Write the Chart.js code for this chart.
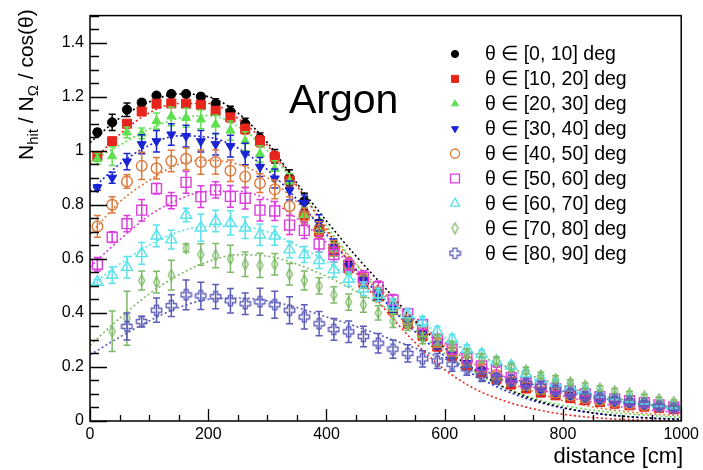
<!DOCTYPE html>
<html>
<head>
<meta charset="utf-8">
<script src="https://cdn.jsdelivr.net/npm/chart.js@4.4.1/dist/chart.umd.min.js"></script>
<style>
  html, body { margin: 0; padding: 0; background: #fff; }
  #wrap { width: 703px; height: 470px; }
</style>
</head>
<body>
<div id="wrap"><canvas id="myChart"></canvas></div>
<script>
// data
const distance = [12.5, 37.5, 62.5, 87.5, 112.5, 137.5, 162.5, 187.5, 212.5, 237.5,
  262.5, 287.5, 312.5, 337.5, 362.5, 387.5, 412.5, 437.5, 462.5, 487.5,
  512.5, 537.5, 562.5, 587.5, 612.5, 637.5, 662.5, 687.5, 712.5, 737.5,
  762.5, 787.5, 812.5, 837.5, 862.5, 887.5, 912.5, 937.5, 962.5, 987.5];
const fitDistance = [0, 50, 100, 150, 200, 250, 300, 350, 400, 450, 500,
  550, 600, 650, 700, 750, 800, 850, 900, 950, 1000];
const thetaLabels = ['θ ∈ [0, 10] deg', 'θ ∈ [10, 20] deg', 'θ ∈ [20, 30] deg',
  'θ ∈ [30, 40] deg', 'θ ∈ [40, 50] deg', 'θ ∈ [50, 60] deg',
  'θ ∈ [60, 70] deg', 'θ ∈ [70, 80] deg', 'θ ∈ [80, 90] deg'];
const xTicks = [0, 200, 400, 600, 800, 1000];
const yTicks = [0, 0.2, 0.4, 0.6, 0.8, 1, 1.2, 1.4];

const ratio0 = [1.068, 1.105, 1.152, 1.178, 1.204, 1.21, 1.21, 1.20, 1.174, 1.145,
  1.10, 1.046, 0.98, 0.90, 0.813, 0.715, 0.64, 0.57, 0.52, 0.47,
  0.42, 0.37, 0.32, 0.28, 0.245, 0.21, 0.185, 0.16, 0.14, 0.125,
  0.11, 0.1, 0.09, 0.08, 0.072, 0.066, 0.06, 0.055, 0.05, 0.045];
const err0 = [0.012, 0.03, 0.025, 0.012, 0.01, 0.01, 0.01, 0.012, 0.018, 0.02,
  0.02, 0.02, 0.025, 0.03, 0.03, 0.03, 0.025, 0.02, 0.02, 0.018,
  0.016, 0.015, 0.013, 0.012, 0.011, 0.01, 0.009, 0.008, 0.007, 0.006,
  0.006, 0.005, 0.005, 0.004, 0.004, 0.004, 0.003, 0.003, 0.003, 0.003];
const fit0 = [1.03, 1.12, 1.18, 1.21, 1.20, 1.14, 1.03, 0.88, 0.74, 0.61, 0.49,
  0.37, 0.27, 0.19, 0.125, 0.08, 0.05, 0.03, 0.018, 0.01, 0.006];

const ratio10 = [0.98, 1.035, 1.10, 1.145, 1.174, 1.175, 1.174, 1.17, 1.148, 1.123,
  1.08, 1.035, 0.977, 0.89, 0.76, 0.70, 0.63, 0.565, 0.51, 0.46,
  0.41, 0.36, 0.315, 0.275, 0.24, 0.205, 0.18, 0.155, 0.135, 0.12,
  0.105, 0.095, 0.085, 0.077, 0.07, 0.064, 0.058, 0.053, 0.048, 0.044];
const err10 = [0.012, 0.015, 0.012, 0.01, 0.01, 0.01, 0.01, 0.012, 0.015, 0.015,
  0.018, 0.02, 0.02, 0.025, 0.025, 0.025, 0.02, 0.02, 0.018, 0.016,
  0.015, 0.013, 0.012, 0.01, 0.009, 0.008, 0.007, 0.006, 0.005, 0.005,
  0.004, 0.004, 0.003, 0.003, 0.003, 0.003, 0.002, 0.002, 0.002, 0.002];
const fit10 = [0.95, 1.06, 1.14, 1.175, 1.175, 1.12, 1.02, 0.87, 0.71, 0.55, 0.41,
  0.29, 0.19, 0.12, 0.075, 0.045, 0.025, 0.013, 0.006, 0.002, 0.0];

const ratio20 = [0.97, 0.98, 1.068, 1.064, 1.11, 1.127, 1.122, 1.116, 1.097, 1.075,
  1.035, 0.988, 0.933, 0.886, 0.762, 0.707, 0.635, 0.57, 0.515, 0.465,
  0.415, 0.365, 0.32, 0.28, 0.245, 0.21, 0.185, 0.16, 0.14, 0.124,
  0.11, 0.099, 0.089, 0.08, 0.072, 0.066, 0.06, 0.055, 0.05, 0.046];
const err20 = [0.02, 0.035, 0.02, 0.02, 0.03, 0.035, 0.035, 0.035, 0.035, 0.035,
  0.035, 0.03, 0.03, 0.03, 0.03, 0.03, 0.025, 0.025, 0.022, 0.02,
  0.018, 0.016, 0.015, 0.013, 0.012, 0.011, 0.01, 0.009, 0.008, 0.007,
  0.007, 0.006, 0.006, 0.005, 0.005, 0.005, 0.004, 0.004, 0.004, 0.004];
const fit20 = [0.96, 1.02, 1.08, 1.12, 1.13, 1.09, 1.00, 0.87, 0.72, 0.58, 0.45,
  0.34, 0.25, 0.18, 0.125, 0.085, 0.058, 0.04, 0.028, 0.02, 0.013];

const ratio30 = [0.864, 0.90, 0.96, 1.024, 1.035, 1.06, 1.054, 1.035, 1.024, 1.017,
  0.988, 0.94, 0.897, 0.853, 0.806, 0.733, 0.645, 0.575, 0.52, 0.47,
  0.42, 0.37, 0.32, 0.28, 0.245, 0.212, 0.186, 0.162, 0.142, 0.126,
  0.112, 0.1, 0.09, 0.081, 0.073, 0.067, 0.061, 0.056, 0.051, 0.047];
const err30 = [0.01, 0.02, 0.03, 0.035, 0.04, 0.04, 0.04, 0.04, 0.04, 0.04,
  0.04, 0.035, 0.035, 0.035, 0.03, 0.03, 0.028, 0.025, 0.022, 0.02,
  0.018, 0.016, 0.015, 0.013, 0.012, 0.011, 0.01, 0.009, 0.008, 0.007,
  0.006, 0.006, 0.005, 0.005, 0.004, 0.004, 0.004, 0.003, 0.003, 0.003];
const fit30 = [0.85, 0.95, 1.02, 1.055, 1.05, 1.01, 0.93, 0.82, 0.69, 0.56, 0.44,
  0.33, 0.24, 0.17, 0.115, 0.075, 0.048, 0.03, 0.018, 0.011, 0.007];

const ratio40 = [0.72, 0.80, 0.886, 0.944, 0.935, 0.962, 0.97, 0.958, 0.958, 0.926,
  0.904, 0.88, 0.857, 0.795, 0.758, 0.707, 0.64, 0.58, 0.525, 0.475,
  0.425, 0.375, 0.33, 0.29, 0.255, 0.222, 0.195, 0.17, 0.15, 0.133,
  0.118, 0.105, 0.094, 0.085, 0.077, 0.07, 0.064, 0.058, 0.053, 0.049];
const err40 = [0.04, 0.03, 0.025, 0.05, 0.04, 0.04, 0.04, 0.045, 0.045, 0.04,
  0.04, 0.035, 0.035, 0.035, 0.03, 0.03, 0.028, 0.025, 0.022, 0.02,
  0.018, 0.017, 0.016, 0.015, 0.014, 0.013, 0.012, 0.011, 0.01, 0.009,
  0.008, 0.008, 0.007, 0.007, 0.006, 0.006, 0.005, 0.005, 0.005, 0.005];
const fit40 = [0.69, 0.81, 0.89, 0.95, 0.965, 0.95, 0.90, 0.81, 0.70, 0.58, 0.47,
  0.37, 0.28, 0.21, 0.15, 0.11, 0.075, 0.052, 0.036, 0.026, 0.02];

const ratio50 = [0.58, 0.68, 0.73, 0.78, 0.86, 0.815, 0.883, 0.83, 0.855, 0.831,
  0.824, 0.78, 0.777, 0.725, 0.705, 0.655, 0.616, 0.576, 0.532, 0.496,
  0.448, 0.397, 0.357, 0.303, 0.266, 0.233, 0.204, 0.186, 0.16, 0.142,
  0.131, 0.12, 0.11, 0.10, 0.09, 0.082, 0.075, 0.068, 0.06, 0.052];
const err50 = [0.025, 0.02, 0.03, 0.04, 0.02, 0.03, 0.04, 0.04, 0.03, 0.04,
  0.04, 0.04, 0.035, 0.035, 0.03, 0.03, 0.028, 0.026, 0.024, 0.022,
  0.02, 0.019, 0.018, 0.017, 0.016, 0.015, 0.014, 0.013, 0.012, 0.011,
  0.01, 0.01, 0.009, 0.009, 0.008, 0.008, 0.007, 0.007, 0.007, 0.006];
const fit50 = [0.57, 0.67, 0.76, 0.82, 0.85, 0.85, 0.82, 0.75, 0.66, 0.56, 0.46,
  0.37, 0.29, 0.22, 0.165, 0.125, 0.093, 0.07, 0.052, 0.04, 0.03];

const ratio60 = [0.514, 0.54, 0.569, 0.62, 0.685, 0.671, 0.762, 0.715, 0.74, 0.733,
  0.715, 0.689, 0.685, 0.634, 0.616, 0.594, 0.56, 0.525, 0.489, 0.467,
  0.43, 0.394, 0.368, 0.332, 0.303, 0.266, 0.248, 0.222, 0.204, 0.175,
  0.157, 0.14, 0.127, 0.113, 0.10, 0.09, 0.08, 0.072, 0.064, 0.056];
const err60 = [0.01, 0.03, 0.04, 0.04, 0.04, 0.035, 0.025, 0.05, 0.04, 0.045,
  0.04, 0.04, 0.035, 0.03, 0.03, 0.03, 0.028, 0.026, 0.025, 0.024,
  0.022, 0.02, 0.019, 0.018, 0.017, 0.016, 0.015, 0.014, 0.013, 0.012,
  0.011, 0.011, 0.01, 0.01, 0.009, 0.009, 0.008, 0.008, 0.008, 0.007];
const fit60 = [0.50, 0.58, 0.65, 0.70, 0.72, 0.72, 0.70, 0.65, 0.59, 0.52, 0.45,
  0.38, 0.31, 0.25, 0.20, 0.155, 0.12, 0.092, 0.07, 0.053, 0.04];

const ratio70 = [null, 0.332, 0.38, 0.52, 0.514, 0.54, 0.64, 0.616, 0.612, 0.60,
  0.58, 0.576, 0.58, 0.543, 0.52, 0.50, 0.467, 0.44, 0.43, 0.40,
  0.37, 0.357, 0.306, 0.30, 0.277, 0.25, 0.233, 0.222, 0.197, 0.186,
  0.168, 0.155, 0.142, 0.13, 0.12, 0.11, 0.10, 0.09, 0.08, 0.07];
const err70 = [0, 0.075, 0.1, 0.035, 0.04, 0.055, 0.015, 0.04, 0.045, 0.05,
  0.045, 0.045, 0.04, 0.04, 0.035, 0.03, 0.03, 0.03, 0.028, 0.026,
  0.024, 0.022, 0.02, 0.019, 0.018, 0.017, 0.016, 0.015, 0.014, 0.013,
  0.012, 0.012, 0.011, 0.011, 0.01, 0.01, 0.009, 0.009, 0.008, 0.008];
const fit70 = [0.28, 0.38, 0.47, 0.54, 0.59, 0.615, 0.61, 0.58, 0.535, 0.48, 0.42,
  0.36, 0.30, 0.25, 0.205, 0.165, 0.13, 0.10, 0.08, 0.062, 0.05];

const ratio80 = [null, null, 0.35, 0.368, 0.41, 0.427, 0.467, 0.463, 0.46, 0.445,
  0.434, 0.441, 0.43, 0.41, 0.385, 0.36, 0.339, 0.33, 0.313, 0.288,
  0.266, 0.25, 0.23, 0.222, 0.21, 0.193, 0.168, 0.157, 0.15, 0.139,
  0.128, 0.115, 0.104, 0.092, 0.086, 0.078, 0.071, 0.065, 0.055, 0.048];
const err80 = [0, 0, 0.05, 0.02, 0.045, 0.04, 0.055, 0.05, 0.045, 0.045,
  0.04, 0.05, 0.05, 0.05, 0.045, 0.045, 0.04, 0.04, 0.038, 0.036,
  0.034, 0.032, 0.03, 0.028, 0.026, 0.024, 0.022, 0.02, 0.019, 0.018,
  0.017, 0.016, 0.015, 0.014, 0.013, 0.012, 0.012, 0.011, 0.011, 0.01];
const fit80 = [0.245, 0.31, 0.37, 0.42, 0.45, 0.455, 0.445, 0.42, 0.385, 0.35, 0.31,
  0.27, 0.23, 0.195, 0.165, 0.135, 0.11, 0.09, 0.072, 0.058, 0.046];

const seriesValues = [ratio0, ratio10, ratio20, ratio30, ratio40, ratio50, ratio60, ratio70, ratio80];
const seriesErrors = [err0, err10, err20, err30, err40, err50, err60, err70, err80];
const seriesFits = [fit0, fit10, fit20, fit30, fit40, fit50, fit60, fit70, fit80];

// marker helpers
function diamondMarker(color) {
  const c = document.createElement('canvas');
  c.width = 9; c.height = 13;
  const g = c.getContext('2d');
  g.strokeStyle = color; g.lineWidth = 1.3;
  g.beginPath();
  g.moveTo(4.5, 1); g.lineTo(7.5, 6.5); g.lineTo(4.5, 12); g.lineTo(1.5, 6.5);
  g.closePath(); g.stroke();
  return c;
}
function openCrossMarker(color) {
  const c = document.createElement('canvas');
  c.width = 13; c.height = 13;
  const g = c.getContext('2d');
  const m = 6.5, a = 2, s = 5.2;
  g.strokeStyle = color; g.lineWidth = 1.3;
  g.beginPath();
  g.moveTo(m - a, m - s); g.lineTo(m + a, m - s); g.lineTo(m + a, m - a);
  g.lineTo(m + s, m - a); g.lineTo(m + s, m + a); g.lineTo(m + a, m + a);
  g.lineTo(m + a, m + s); g.lineTo(m - a, m + s); g.lineTo(m - a, m + a);
  g.lineTo(m - s, m + a); g.lineTo(m - s, m - a); g.lineTo(m - a, m - a);
  g.closePath(); g.stroke();
  return c;
}

const colors = ['#000000', '#e8251c', '#5fe04f', '#1a24d4', '#dc7a3c',
  '#dc3ddf', '#58e2ea', '#7dba68', '#5b5bb8'];
const markers = [
  { pointStyle: 'circle', radius: 4.6, filled: true, legendRadius: 3.6 },
  { pointStyle: 'rect', radius: 6.4, filled: true, legendRadius: 5 },
  { pointStyle: 'triangle', radius: 5.2, filled: true, legendRadius: 4 },
  { pointStyle: 'triangle', rotation: 180, radius: 5.2, filled: true, legendRadius: 4 },
  { pointStyle: 'circle', radius: 5.3, filled: false, legendRadius: 4.6 },
  { pointStyle: 'rect', radius: 7, filled: false, legendRadius: 6.3 },
  { pointStyle: 'triangle', radius: 6.4, filled: false, legendRadius: 5.3 },
  { pointStyle: diamondMarker(colors[7]), radius: 5, filled: false, legendRadius: 5 },
  { pointStyle: openCrossMarker(colors[8]), radius: 5, filled: false, legendRadius: 5 },
];

const datasets = [];
seriesValues.forEach((vals, i) => {
  const pts = [];
  const errs = [];
  distance.forEach((x, k) => {
    if (vals[k] !== null) { pts.push({ x: x, y: vals[k] }); errs.push(seriesErrors[i][k]); }
  });
  datasets.push({
    type: 'scatter',
    label: thetaLabels[i],
    data: pts,
    errors: errs,
    order: 9 - i,
    pointStyle: markers[i].pointStyle,
    pointRotation: markers[i].rotation || 0,
    pointRadius: markers[i].radius,
    pointBorderWidth: markers[i].filled ? 1 : 1.4,
    borderColor: colors[i],
    backgroundColor: markers[i].filled ? colors[i] : 'rgba(0,0,0,0)',
  });
});
seriesFits.forEach((f, i) => {
  datasets.push({
    type: 'line',
    label: 'fit ' + thetaLabels[i],
    data: fitDistance.map((x, k) => ({ x: x, y: f[k] })),
    order: 20 + i,
    borderColor: colors[i],
    borderWidth: 1.6,
    borderDash: [2, 2.5],
    pointRadius: 0,
    fill: false,
    cubicInterpolationMode: 'monotone',
  });
});

// error bars drawn right before each point set
const errorBars = {
  id: 'errorBars',
  beforeDatasetDraw(chart, args) {
    const ds = chart.data.datasets[args.index];
    if (!ds.errors) return;
    const ctx = chart.ctx;
    const ys = chart.scales.y;
    ctx.save();
    ctx.strokeStyle = ds.borderColor;
    ctx.lineWidth = 1.5;
    args.meta.data.forEach((el, k) => {
      const e = ds.errors[k];
      if (!e) return;
      const v = ds.data[k].y;
      const top = ys.getPixelForValue(Math.min(v + e, 1.5));
      const bot = ys.getPixelForValue(Math.max(v - e, 0));
      ctx.beginPath();
      ctx.moveTo(el.x, top); ctx.lineTo(el.x, bot);
      ctx.moveTo(el.x - 3.5, top); ctx.lineTo(el.x + 3.5, top);
      ctx.moveTo(el.x - 3.5, bot); ctx.lineTo(el.x + 3.5, bot);
      ctx.stroke();
    });
    ctx.restore();
  }
};

// ROOT-like frame, inward ticks, titles and legend
const decorations = {
  id: 'decorations',
  afterDraw(chart) {
    const ctx = chart.ctx;
    const a = chart.chartArea;
    const xs = chart.scales.x, ys = chart.scales.y;
    ctx.save();
    ctx.strokeStyle = '#000';
    ctx.lineWidth = 1.5;
    ctx.strokeRect(a.left, a.top, a.right - a.left, a.bottom - a.top);
    ctx.lineWidth = 1.3;
    ctx.beginPath();
    for (let v = 0; v <= 1000.01; v += 50) {
      const px = Math.round(xs.getPixelForValue(v)) + 0.5;
      const len = (Math.round(v) % 200 === 0) ? 12 : 6;
      ctx.moveTo(px, a.bottom); ctx.lineTo(px, a.bottom - len);
    }
    for (let k = 0; k <= 30; k++) {
      const v = k * 0.05;
      const py = Math.round(ys.getPixelForValue(v)) + 0.5;
      const len = (k % 4 === 0) ? 17 : 9;
      ctx.moveTo(a.left, py); ctx.lineTo(a.left + len, py);
    }
    ctx.stroke();

    ctx.fillStyle = '#000';
    // x title
    ctx.font = '22px "Liberation Sans", Arial, sans-serif';
    ctx.textAlign = 'right';
    ctx.textBaseline = 'alphabetic';
    ctx.fillText('distance [cm]', a.right + 2, 463);

    // y title with subscripts
    ctx.save();
    ctx.translate(33, 160);
    ctx.rotate(-Math.PI / 2);
    ctx.textAlign = 'left';
    const big = '21px "Liberation Sans", Arial, sans-serif';
    const small = '15px "Liberation Sans", Arial, sans-serif';
    let cx = 0;
    const part = (txt, font, dy) => {
      ctx.font = font;
      ctx.fillText(txt, cx, dy);
      cx += ctx.measureText(txt).width;
    };
    part('N', big, 0);
    part('hit', small, 5);
    part(' / N', big, 0);
    part('Ω', small, 5);
    part(' / cos(θ)', big, 0);
    ctx.restore();

    // Argon label
    ctx.font = '41px "Liberation Sans", Arial, sans-serif';
    ctx.textAlign = 'left';
    ctx.fillText('Argon', 289, 113);

    // legend
    ctx.font = '19.5px "Liberation Sans", Arial, sans-serif';
    ctx.textBaseline = 'middle';
    thetaLabels.forEach((lab, i) => {
      const y = 54 + i * 24.9;
      const m = markers[i];
      ctx.save();
      ctx.strokeStyle = colors[i];
      ctx.fillStyle = m.filled ? colors[i] : 'rgba(0,0,0,0)';
      ctx.lineWidth = m.filled ? 1 : 1.3;
      Chart.helpers.drawPoint(ctx, {
        pointStyle: m.pointStyle, radius: m.legendRadius,
        rotation: m.rotation || 0, borderWidth: ctx.lineWidth
      }, 455, y);
      ctx.restore();
      ctx.fillStyle = '#000';
      ctx.fillText(lab, 485, y + 1);
    });
    ctx.restore();
  }
};

const config = {
  data: { datasets },
  options: {
    responsive: true,
    maintainAspectRatio: false,
    animation: false,
    events: [],
    layout: { padding: { top: 12, right: 19, left: 0, bottom: 0 } },
    plugins: { legend: { display: false }, tooltip: { enabled: false } },
    scales: {
      x: {
        type: 'linear', min: 0, max: 1000,
        grid: { display: false, drawTicks: false },
        border: { display: false },
        ticks: {
          stepSize: 200, padding: 4, color: '#000', maxRotation: 0,
          font: { family: '"Liberation Sans", Arial, sans-serif', size: 16 },
          callback: (v) => xTicks.includes(v) ? String(v) : ''
        },
        afterFit: (s) => { s.height = 49; }
      },
      y: {
        type: 'linear', min: 0, max: 1.5,
        grid: { display: false, drawTicks: false },
        border: { display: false },
        ticks: {
          stepSize: 0.2, padding: 6, color: '#000', includeBounds: false,
          font: { family: '"Liberation Sans", Arial, sans-serif', size: 16 },
          callback: (v) => {
            const r = Math.round(v * 10) / 10;
            return yTicks.includes(r) ? String(r) : '';
          }
        },
        afterFit: (s) => { s.width = 90; }
      }
    }
  },
  plugins: [errorBars, decorations]
};

const myChart = new Chart(document.getElementById('myChart'), config);
</script>
</body>
</html>
